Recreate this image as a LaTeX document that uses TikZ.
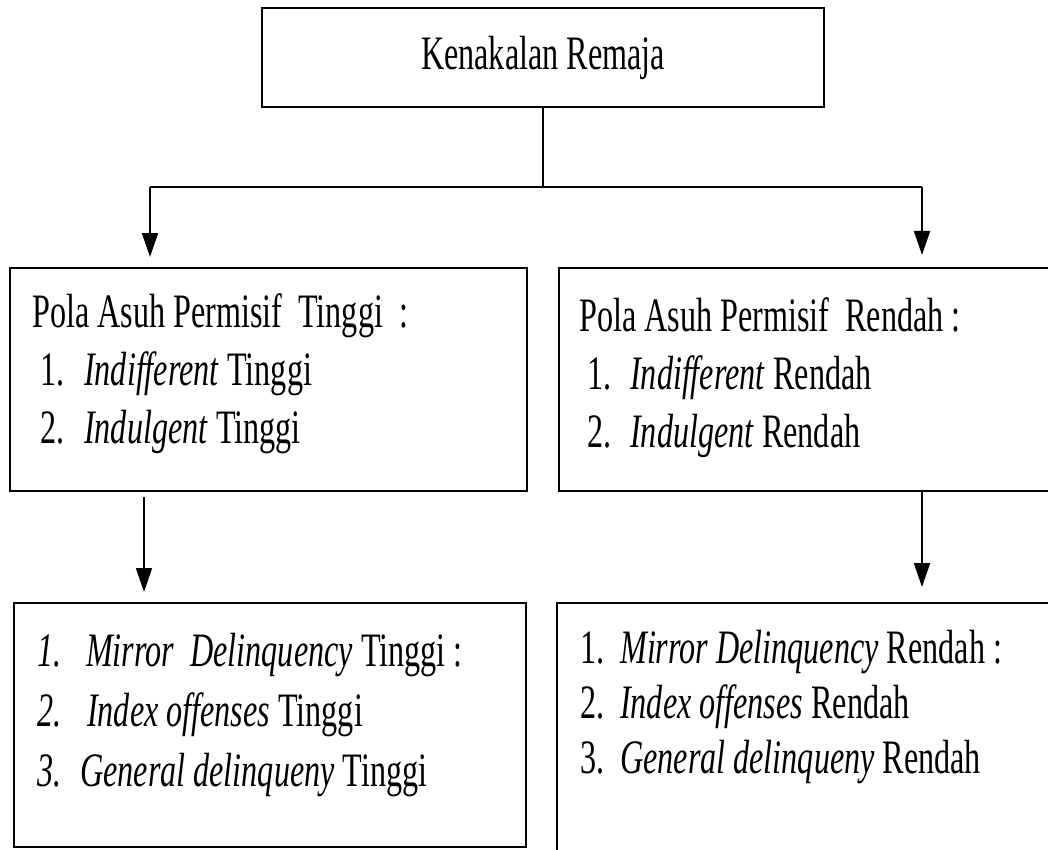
\documentclass[tikz,border=0pt]{standalone}
\usepackage{fontspec}
\setmainfont{Liberation Serif}[FakeStretch=0.67]
\usepackage{tikz}
\usetikzlibrary{arrows.meta,positioning}

\begin{document}
\begin{tikzpicture}[x=1pt, y=-1pt,
    box/.style={draw, line width=2pt, rectangle, inner sep=0pt},
    txt/.style={anchor=north west, align=left, inner sep=0pt},
    arr/.style={line width=1.8pt, -{Triangle[length=24pt, width=16pt]}},
    ln/.style={line width=1.8pt}]
    \useasboundingbox (0,0) rectangle (1048,850);

    % boxes
    \node[box, minimum width=562pt, minimum height=99pt, font=\fontsize{48}{58}\selectfont] (top) at (543,57.5) {Kenakalan Remaja};
    \node[box, minimum width=517pt, minimum height=223pt] (midL) at (268.5,379.5) {};
    \node[box, minimum width=493pt, minimum height=223pt] (midR) at (805.5,379.5) {};
    \node[box, minimum width=512pt, minimum height=244pt] (botL) at (270,725) {};
    \node[box, minimum width=495pt, minimum height=257pt] (botR) at (804.5,731.5) {};

    % texts
    \node[txt, font=\fontsize{48}{58}\selectfont] (midLtxt) at (32,293)
        {Pola Asuh Permisif\ \ Tinggi\ \ :\\
         \makebox[52pt][l]{\ 1.}\textit{Indifferent} Tinggi\\
         \makebox[52pt][l]{\ 2.}\textit{Indulgent} Tinggi};
    \node[txt, font=\fontsize{48}{58}\selectfont] (midRtxt) at (579,297)
        {Pola Asuh Permisif\ \ Rendah :\\
         \makebox[51pt][l]{\ 1.}\textit{Indifferent} Rendah\\
         \makebox[51pt][l]{\ 2.}\textit{Indulgent} Rendah};
    \node[txt, font=\fontsize{48}{60}\selectfont] (botLtxt) at (37,633)
        {\makebox[49pt][l]{\textit{1.}}\textit{Mirror\ \ Delinquency} Tinggi :\\
         \makebox[50pt][l]{\textit{2.}}\textit{Index offenses} Tinggi\\
         \makebox[43pt][l]{\textit{3.}}\textit{General delinqueny} Tinggi};
    \node[txt, font=\fontsize{48}{55}\selectfont] (botRtxt) at (580,630)
        {\makebox[40pt][l]{1.}\textit{Mirror Delinquency} Rendah :\\
         \makebox[40pt][l]{2.}\textit{Index offenses} Rendah\\
         \makebox[40pt][l]{3.}\textit{General delinqueny} Rendah};

    % connectors
    \coordinate (split) at (543,187);
    \coordinate (jl) at (150,187);
    \coordinate (jr) at (922,187);
    \coordinate (dl) at (144,497);

    \draw[ln] (top.south) -- (split);
    \draw[ln] (jl) -- (jr);
    \draw[arr, shorten >=10pt] (jl) -- (jl |- midL.north);
    \draw[arr, shorten >=12pt] (jr) -- (jr |- midR.north);
    \draw[arr, shorten >=10pt] (dl) -- (dl |- botL.north);
    \draw[arr, shorten >=15pt] (midR.south -| jr) -- (botR.north -| jr);
\end{tikzpicture}
\end{document}
